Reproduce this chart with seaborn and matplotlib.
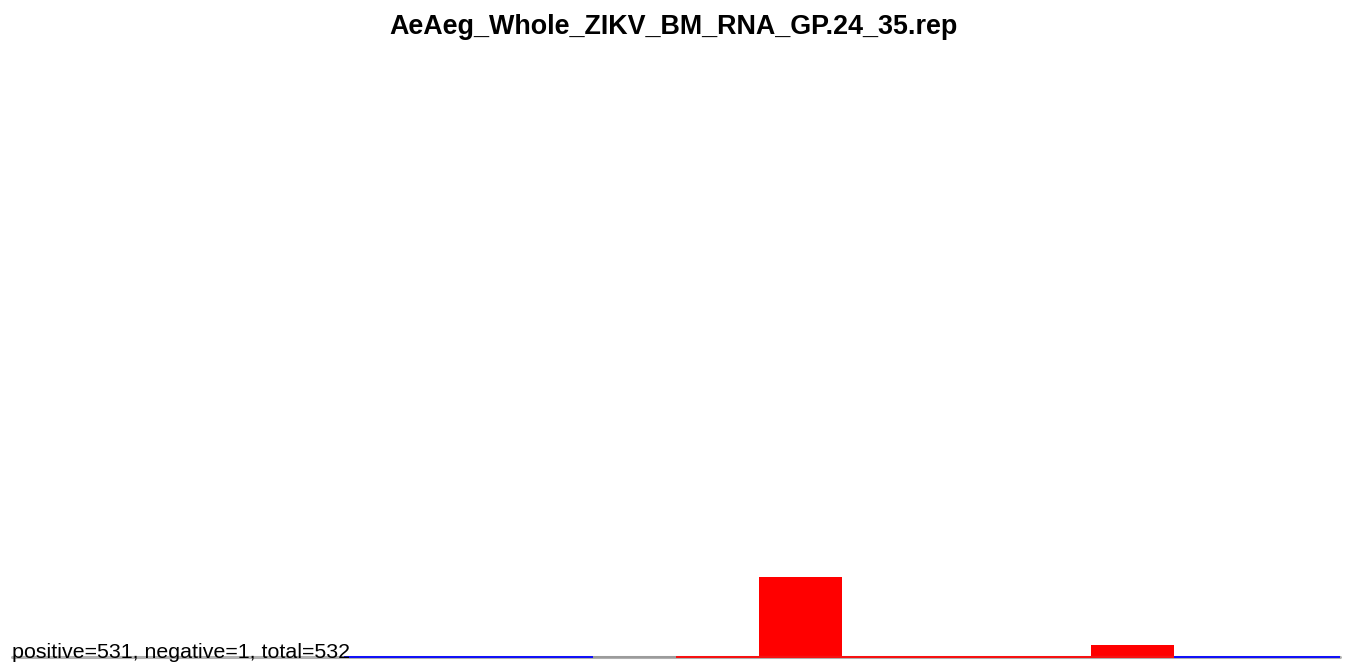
import matplotlib
matplotlib.use("Agg")
import matplotlib.pyplot as plt
import seaborn as sns

# === DATOS ===
title = "AeAeg_Whole_ZIKV_BM_RNA_GP.24_35.rep"
lengths = [20, 21, 22, 23, 24, 25, 26, 27, 28, 29, 30, 31, 32, 33, 34, 35]
positive = [0, 0, 0, 0, 0, 0, 0, 0, 0, 466, 0, 0, 0, 65, 0, 0]
negative = [0, 0, 0, 0, 0, 0, 0, 0, 0, 1, 0, 0, 0, 0, 0, 0]
# color of the baseline segment under each length (None = no segment)
band_colors = [None, None, None, None, "blue", "blue", "blue", "#999999",
               "red", "red", "red", "red", "red", "red", "blue", "blue"]

n_pos = sum(positive)
n_neg = sum(negative)
summary = f"positive={n_pos}, negative={n_neg}, total={n_pos + n_neg}"

# === FIGURA ===
sns.set_style("white")
plt.rcParams["font.family"] = ["Liberation Sans", "DejaVu Sans"]

fig = plt.figure(figsize=(13.47, 6.64), dpi=100)
ax = fig.add_axes([12 / 1347, 1 - 656.5 / 664, 1328 / 1347, 596 / 664])

sns.barplot(x=lengths, y=positive, native_scale=True, width=1.0,
            color="red", saturation=1, linewidth=0, ax=ax)
sns.barplot(x=lengths, y=[-v for v in negative], native_scale=True, width=1.0,
            color="blue", saturation=1, linewidth=0, ax=ax)

# baseline: gray underneath, colored segments on top
ax.axhline(0, color="#b0b0b0", lw=2.2, zorder=1, clip_on=False)
for L, c in zip(lengths, band_colors):
    if c is not None:
        ax.hlines(0, L - 0.5, L + 0.5, colors=c, lw=1.3, zorder=3, clip_on=False)

ax.set_xlim(19.5, 35.5)
ax.set_ylim(0, 3500)
ax.axis("off")

fig.text(12 / 1347, 1 - 657.5 / 664, summary, ha="left", va="baseline",
         fontsize=15.4, color="black")
fig.text(0.5, 1 - 34 / 664, title, ha="center", va="baseline",
         fontsize=19.4, fontweight="bold", color="black")

fig.savefig("out.png", dpi=100)
plt.close(fig)
